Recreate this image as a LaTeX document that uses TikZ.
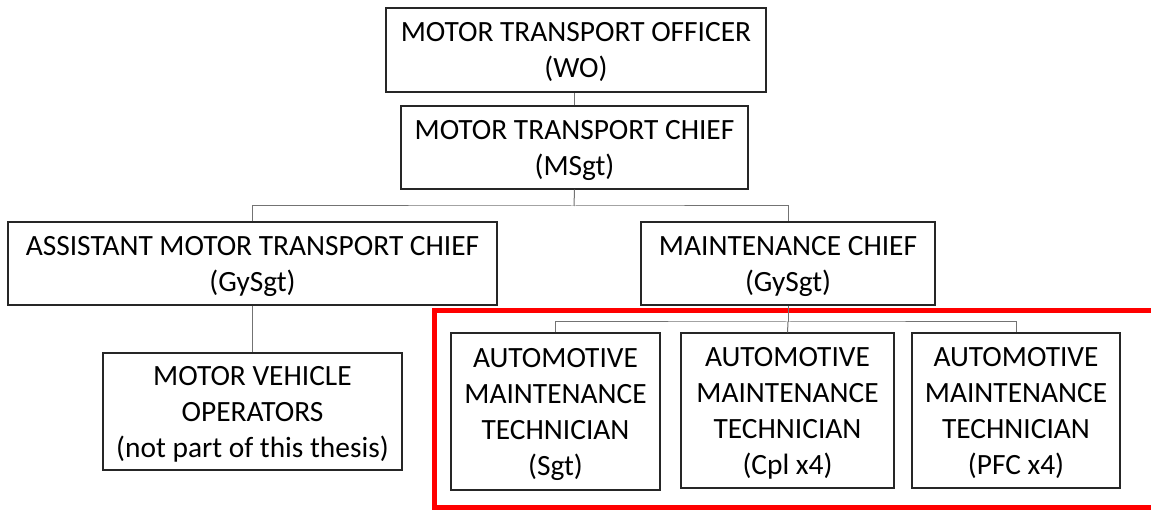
\documentclass[tikz,border=0pt]{standalone}
\usepackage{fontspec}
\setmainfont{Carlito}
\begin{document}
\begin{tikzpicture}[x=1pt,y=-1pt,
  box/.style={draw=black!85, line width=1.3pt, fill=white, align=center,
    inner sep=0pt, font=\fontsize{29.4}{36}\selectfont, text depth=-1pt},
  link/.style={draw=black!55, line width=1pt},
  focus/.style={draw=red, line width=5pt}]
\clip (0,0) rectangle (1151,510);
\fill[white] (0,0) rectangle (1151,510);

% red frame round the technicians (runs past the right edge)
\draw[focus] (434,311) rectangle (1170,507);

% chain of command
\node[box, minimum width=380pt, minimum height=84pt] (wo) at (576,50)
  {MOTOR TRANSPORT OFFICER\\(WO)};
\node[box, minimum width=347pt, minimum height=83pt] (msgt) at (574.5,147.5)
  {MOTOR TRANSPORT CHIEF\\(MSgt)};
\node[box, minimum width=489pt, minimum height=83pt] (amtc) at (252.5,263.5)
  {ASSISTANT MOTOR TRANSPORT CHIEF\\(GySgt)};
\node[box, minimum width=294pt, minimum height=83pt] (mc) at (788,263.5)
  {MAINTENANCE CHIEF\\(GySgt)};
\node[box, minimum width=299pt, minimum height=117pt] (mvo) at (252.5,411.5)
  {MOTOR VEHICLE\\OPERATORS\\(not part of this thesis)};
\node[box, minimum width=209pt, minimum height=157pt] (t1) at (555.5,411.5)
  {AUTOMOTIVE\\MAINTENANCE\\TECHNICIAN\\(Sgt)};
\node[box, minimum width=213pt, minimum height=155pt] (t2) at (787.5,410.5)
  {AUTOMOTIVE\\MAINTENANCE\\TECHNICIAN\\(Cpl x4)};
\node[box, minimum width=208pt, minimum height=155pt] (t3) at (1016,410.5)
  {AUTOMOTIVE\\MAINTENANCE\\TECHNICIAN\\(PFC x4)};

% connectors
\coordinate (busa) at (574,206);
\coordinate (busb) at (788,322);
\draw[link] (msgt.north) -- (msgt.north |- wo.south);
\draw[link] (msgt.south) -- (busa);
\draw[link] (amtc.north) |- (busa) -| (mc.north);
\draw[link] (amtc.south) -- (mvo.north);
\draw[link] (mc.south) -- (busb);
\draw[link] (t1.north) |- (busb) -| (t3.north);
\draw[link] (busb) -- (t2.north);
\end{tikzpicture}
\end{document}
